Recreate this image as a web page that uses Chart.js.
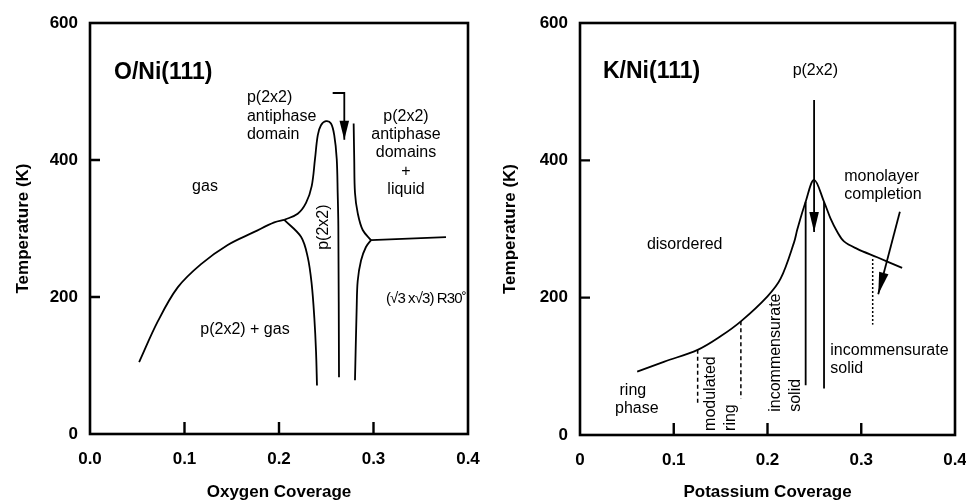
<!DOCTYPE html>
<html lang="en">
<head>
  <meta charset="UTF-8" />
  <title>O/Ni(111) and K/Ni(111) phase diagrams</title>
  <script src="https://cdn.jsdelivr.net/npm/chart.js"></script>
  <style>
    html, body { margin: 0; padding: 0; background: #fff; }
    .row { display: flex; width: 966px; height: 503px; }
    .panel { position: relative; width: 483px; height: 503px; }
  </style>
</head>
<body>
  <div class="row">
    <div class="panel"><canvas id="oxygenChart"></canvas></div>
    <div class="panel"><canvas id="potassiumChart"></canvas></div>
  </div>
  <script>
    // tick labels
    const yTickLabels = ['0', '200', '400', '600'];
    const oxygenTickLabels = ['0.0', '0.1', '0.2', '0.3', '0.4'];
    const potassiumTickLabels = ['0', '0.1', '0.2', '0.3', '0.4'];
    const innerXTicks = [0.1, 0.2, 0.3];
    const innerYTicks = [200, 400];

    // O/Ni(111) phase boundaries, [coverage, temperature K]
    const oGasEdge = [[0.052, 105], [0.0716, 164], [0.0928, 214], [0.1175, 248], [0.1457, 276], [0.1739, 295], [0.195, 309], [0.2056, 312.6]];
    const oDomainPeak = [[0.2056, 312.6], [0.2198, 321.5], [0.2286, 337.3], [0.2346, 361.9], [0.2381, 401.5], [0.2410, 436], [0.2444, 450.8], [0.2497, 456.7], [0.2550, 453.3], [0.2585, 436], [0.2611, 401.5], [0.2621, 352], [0.2628, 302.7], [0.2635, 83]];
    const oLowerLeft = [[0.2056, 312.6], [0.2233, 287.9], [0.2304, 258.2], [0.2346, 218.8], [0.2374, 169.3], [0.2392, 120], [0.2402, 70.7]];
    const oUpperRight = [[0.2790, 453.3], [0.2796, 401.5], [0.2804, 352.2], [0.2833, 322.5], [0.2886, 297.8], [0.2974, 283]];
    const oLowerRight = [[0.2974, 283], [0.2920, 273], [0.2868, 253.3], [0.2833, 223.7], [0.2822, 184.2], [0.2804, 78.5]];
    const oLiquidEdge = [[0.2974, 283], [0.3767, 287.4]];
    const oArrow = [[0.2568, 497.8], [0.2691, 497.8], [0.2691, 429.6]];

    // K/Ni(111) phase boundaries, [coverage, temperature K]
    const kBoundary = [[0.061, 92.2], [0.0901, 106.9], [0.1255, 124], [0.1503, 144.1], [0.1716, 165.5], [0.2, 202], [0.2141, 228], [0.2284, 280.9], [0.2319, 300], [0.2407, 339.7], [0.2497, 371.6], [0.2603, 339.7], [0.2673, 315.1], [0.2745, 295.6], [0.2816, 281.9], [0.2957, 271], [0.317, 258.8], [0.3436, 243.4]];
    const kSolidLeft = [[0.2407, 339.7], [0.2407, 72.5]];
    const kSolidRight = [[0.2603, 339.7], [0.2603, 67.6]];
    const kArrow = [[0.2497, 488], [0.2497, 295.6]];
    const kRingLeft = [[0.1255, 124], [0.1255, 45.6]];
    const kRingRight = [[0.1716, 165.5], [0.1716, 53]];
    const kMonolayerDots = [[0.3122, 256.3], [0.3122, 160.7]];
    const kMonolayerArrow = [[0.3412, 325], [0.3181, 204.9]];

    // region labels, anchored in data coordinates
    const oLabels = [
      { t: 'O/Ni(111)', x: 0.0254, y: 527, big: true, align: 'left' },
      { t: 'p(2x2)', x: 0.1661, y: 490.4, align: 'left' },
      { t: 'antiphase', x: 0.1661, y: 463.7, align: 'left' },
      { t: 'domain', x: 0.1661, y: 437, align: 'left' },
      { t: 'p(2x2)', x: 0.3344, y: 463.7 },
      { t: 'antiphase', x: 0.3344, y: 437 },
      { t: 'domains', x: 0.3344, y: 410.4 },
      { t: '+', x: 0.3344, y: 383.7 },
      { t: 'liquid', x: 0.3344, y: 357 },
      { t: 'gas', x: 0.1217, y: 361.5 },
      { t: 'p(2x2)', x: 0.2476, y: 302, rot: true },
      { t: 'p(2x2) + gas', x: 0.164, y: 152.6 },
      { t: '(√3 x√3) R30˚', x: 0.3132, y: 197, align: 'left', tight: true }
    ];
    const kLabels = [
      { t: 'K/Ni(111)', x: 0.0245, y: 529, big: true, align: 'left' },
      { t: 'p(2x2)', x: 0.251, y: 531 },
      { t: 'disordered', x: 0.1117, y: 278 },
      { t: 'monolayer', x: 0.2819, y: 376.5, align: 'left' },
      { t: 'completion', x: 0.2819, y: 350, align: 'left' },
      { t: 'incommensurate', x: 0.267, y: 123.5, align: 'left' },
      { t: 'solid', x: 0.267, y: 97, align: 'left' },
      { t: 'ring', x: 0.0564, y: 64.7 },
      { t: 'phase', x: 0.0606, y: 38.2 },
      { t: 'modulated', x: 0.1394, y: 5.9, rot: true, align: 'left' },
      { t: 'ring', x: 0.1606, y: 5.9, rot: true, align: 'left' },
      { t: 'incommensurate', x: 0.2085, y: 33.8, rot: true, align: 'left' },
      { t: 'solid', x: 0.2298, y: 33.8, rot: true, align: 'left' }
    ];

    const FONT = "'Liberation Sans', Arial, Helvetica, sans-serif";

    function line(points, extra) {
      return Object.assign({
        data: points.map(p => ({ x: p[0], y: p[1] })),
        showLine: true,
        borderColor: '#000',
        backgroundColor: '#000',
        borderWidth: 1.8,
        pointRadius: 0,
        tension: 0.35,
        fill: false
      }, extra || {});
    }

    function framePlugin() {
      return {
        id: 'frame',
        afterDraw(chart) {
          const { ctx, chartArea: a, scales: { x, y } } = chart;
          ctx.save();
          ctx.strokeStyle = '#000';
          ctx.lineWidth = 2.6;
          ctx.strokeRect(a.left, a.top, a.right - a.left, a.bottom - a.top);
          ctx.lineWidth = 2.4;
          ctx.beginPath();
          innerXTicks.forEach(v => {
            const px = x.getPixelForValue(v);
            ctx.moveTo(px, a.bottom);
            ctx.lineTo(px, a.bottom - 12);
          });
          innerYTicks.forEach(v => {
            const py = y.getPixelForValue(v);
            ctx.moveTo(a.left, py);
            ctx.lineTo(a.left + 10, py);
          });
          ctx.stroke();
          ctx.restore();
        }
      };
    }

    function markupPlugin(labels) {
      return {
        id: 'markup',
        afterDatasetsDraw(chart) {
          const { ctx, scales: { x, y } } = chart;
          ctx.save();
          ctx.fillStyle = '#000';
          // arrow heads on flagged datasets
          chart.data.datasets.forEach(ds => {
            if (!ds.arrowHead) return;
            const n = ds.data.length;
            const x1 = x.getPixelForValue(ds.data[n - 2].x), y1 = y.getPixelForValue(ds.data[n - 2].y);
            const x2 = x.getPixelForValue(ds.data[n - 1].x), y2 = y.getPixelForValue(ds.data[n - 1].y);
            const ang = Math.atan2(y2 - y1, x2 - x1);
            ctx.save();
            ctx.translate(x2, y2);
            ctx.rotate(ang);
            ctx.beginPath();
            ctx.moveTo(0, 0);
            ctx.lineTo(-ds.arrowHead, -4.8);
            ctx.lineTo(-ds.arrowHead, 4.8);
            ctx.closePath();
            ctx.fill();
            ctx.restore();
          });
          // text
          ctx.textBaseline = 'middle';
          labels.forEach(l => {
            ctx.font = l.big ? 'bold 23px ' + FONT : (l.tight ? '15px ' : '16px ') + FONT;
            ctx.letterSpacing = l.tight ? '-0.9px' : '0px';
            ctx.textAlign = l.align || 'center';
            const px = x.getPixelForValue(l.x), py = y.getPixelForValue(l.y);
            if (l.rot) {
              ctx.save();
              ctx.translate(px, py);
              ctx.rotate(-Math.PI / 2);
              ctx.fillText(l.t, 0, 0);
              ctx.restore();
            } else {
              ctx.fillText(l.t, px, py);
            }
          });
          ctx.restore();
        }
      };
    }

    function makeChart(id, opts) {
      const tickFont = { family: FONT, size: 17, weight: 'bold' };
      return new Chart(document.getElementById(id), {
        type: 'scatter',
        data: { datasets: opts.datasets },
        options: {
          responsive: true,
          maintainAspectRatio: false,
          animation: false,
          layout: { padding: { left: 0, right: opts.padRight, top: 23, bottom: 0 } },
          plugins: { legend: { display: false }, tooltip: { enabled: false } },
          scales: {
            x: {
              type: 'linear', min: 0, max: 0.4,
              grid: { display: false, drawTicks: false },
              border: { display: false },
              ticks: {
                stepSize: 0.1, autoSkip: false, padding: 15, color: '#000', font: tickFont,
                callback: (v, i) => opts.xLabels[i]
              },
              title: { display: true, text: opts.xTitle, color: '#000', font: tickFont, padding: { top: 0, bottom: 0 } },
              afterFit: s => { s.height = opts.xHeight; s.paddingLeft = 0; s.paddingRight = 0; }
            },
            y: {
              type: 'linear', min: 0, max: 600,
              grid: { display: false, drawTicks: false },
              border: { display: false },
              ticks: {
                stepSize: 200, padding: 12, color: '#000', font: tickFont,
                callback: (v, i) => yTickLabels[i]
              },
              title: { display: true, text: 'Temperature (K)', color: '#000', font: tickFont, padding: { top: opts.yTitlePad, bottom: 0 } },
              afterFit: s => { s.width = opts.yWidth; s.paddingTop = 0; s.paddingBottom = 0; }
            }
          }
        },
        plugins: [framePlugin(), markupPlugin(opts.labels)]
      });
    }

    makeChart('oxygenChart', {
      xLabels: oxygenTickLabels,
      xTitle: 'Oxygen Coverage',
      yWidth: 90, xHeight: 69, padRight: 15, yTitlePad: 13,
      labels: oLabels,
      datasets: [
        line(oGasEdge),
        line(oDomainPeak),
        line(oLowerLeft),
        line(oUpperRight),
        line(oLowerRight),
        line(oLiquidEdge, { tension: 0 }),
        line(oArrow, { tension: 0, arrowHead: 19 })
      ]
    });

    makeChart('potassiumChart', {
      xLabels: potassiumTickLabels,
      xTitle: 'Potassium Coverage',
      yWidth: 97, xHeight: 68, padRight: 11, yTitlePad: 17,
      labels: kLabels,
      datasets: [
        line(kBoundary),
        line(kSolidLeft, { tension: 0 }),
        line(kSolidRight, { tension: 0 }),
        line(kArrow, { tension: 0, arrowHead: 20 }),
        line(kRingLeft, { tension: 0, borderWidth: 1.5, borderDash: [4, 3] }),
        line(kRingRight, { tension: 0, borderWidth: 1.5, borderDash: [4, 3] }),
        line(kMonolayerDots, { tension: 0, borderWidth: 1.5, borderDash: [2, 2] }),
        line(kMonolayerArrow, { tension: 0, arrowHead: 22 })
      ]
    });
  </script>
</body>
</html>
